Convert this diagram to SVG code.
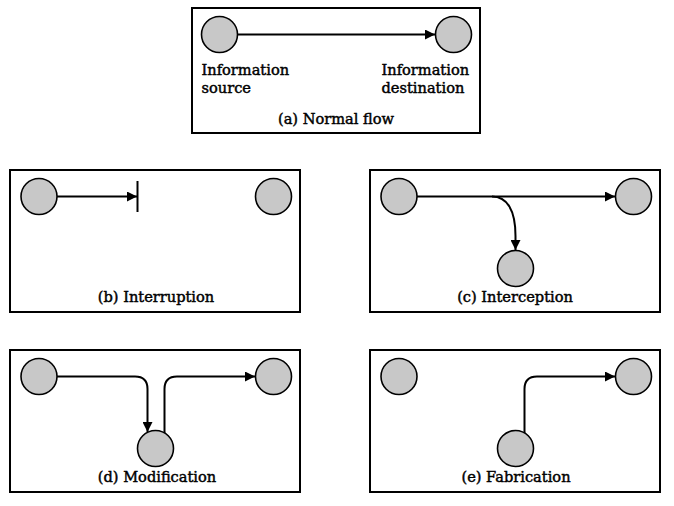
<svg xmlns="http://www.w3.org/2000/svg" width="674" height="506" viewBox="0 0 674 506">
<style>
.box{fill:#fff;stroke:#000;stroke-width:2}
.node{fill:#c8c8c8;stroke:#000;stroke-width:1.6}
.edge{fill:none;stroke:#000;stroke-width:2}
text{font-family:"DejaVu Serif","Liberation Serif",serif;font-size:14.6px;fill:#000;stroke:#000;stroke-width:0.45}
.c{text-anchor:middle}
</style>
<defs>
<marker id="ah" viewBox="0 0 10 10" refX="10" refY="5" markerWidth="14" markerHeight="10" markerUnits="userSpaceOnUse" orient="auto">
<path d="M0,0 L10,5 L0,10 z" fill="#000"/>
</marker>
</defs>
<rect width="674" height="506" fill="#fff"/>
<g id="panel-a">
<rect class="box" x="192" y="8" width="288" height="125"/>
<text x="201.5" y="75">Information</text>
<text x="201.5" y="93">source</text>
<text x="381.5" y="75">Information</text>
<text x="381.5" y="93">destination</text>
<text class="c" x="336" y="124">(a) Normal flow</text>
</g>
<g id="panel-b">
<rect class="box" x="10" y="170" width="290" height="142"/>
<text class="c" x="156" y="302">(b) Interruption</text>
</g>
<g id="panel-c">
<rect class="box" x="370" y="170" width="290" height="142"/>
<text class="c" x="515" y="302">(c) Interception</text>
</g>
<g id="panel-d">
<rect class="box" x="10" y="350" width="290" height="142"/>
<text class="c" x="157" y="482">(d) Modification</text>
</g>
<g id="panel-e">
<rect class="box" x="370" y="350" width="290" height="142"/>
<text class="c" x="516" y="482">(e) Fabrication</text>
</g>
<g id="connectors">
<line class="edge" x1="237" y1="34.5" x2="435" y2="34.5" marker-end="url(#ah)"/>
<line class="edge" x1="57" y1="196.5" x2="137" y2="196.5" marker-end="url(#ah)"/>
<line x1="137.5" y1="181" x2="137.5" y2="212" stroke="#000" stroke-width="2"/>
<line class="edge" x1="417" y1="196.5" x2="615" y2="196.5" marker-end="url(#ah)"/>
<path class="edge" d="M492,196.5 C507,196.5 515.5,210 515.5,236 L515.5,250" marker-end="url(#ah)"/>
<path class="edge" d="M57,376.5 L135,376.5 Q147.5,376.5 147.5,389 L147.5,432" marker-end="url(#ah)"/>
<path class="edge" d="M164.5,434 L164.5,389 Q164.5,376.5 177,376.5 L255,376.5" marker-end="url(#ah)"/>
<path class="edge" d="M524.5,434 L524.5,389 Q524.5,376.5 537,376.5 L615,376.5" marker-end="url(#ah)"/>
</g>
<g id="nodes">
<circle id="a-src" class="node" cx="219.5" cy="34.5" r="18"/>
<circle id="a-dst" class="node" cx="453.5" cy="34.5" r="18"/>
<circle id="b-src" class="node" cx="39" cy="196.5" r="18"/>
<circle id="b-dst" class="node" cx="273.5" cy="196.5" r="18"/>
<circle id="c-src" class="node" cx="399" cy="196.5" r="18"/>
<circle id="c-dst" class="node" cx="633.5" cy="196.5" r="18"/>
<circle id="c-int" class="node" cx="515.5" cy="268.5" r="18"/>
<circle id="d-src" class="node" cx="39" cy="376.5" r="18"/>
<circle id="d-dst" class="node" cx="273.5" cy="376.5" r="18"/>
<circle id="d-mod" class="node" cx="155.5" cy="448.5" r="18"/>
<circle id="e-src" class="node" cx="399" cy="376.5" r="18"/>
<circle id="e-dst" class="node" cx="633.5" cy="376.5" r="18"/>
<circle id="e-fab" class="node" cx="515.5" cy="448.5" r="18"/>
</g>
</svg>
